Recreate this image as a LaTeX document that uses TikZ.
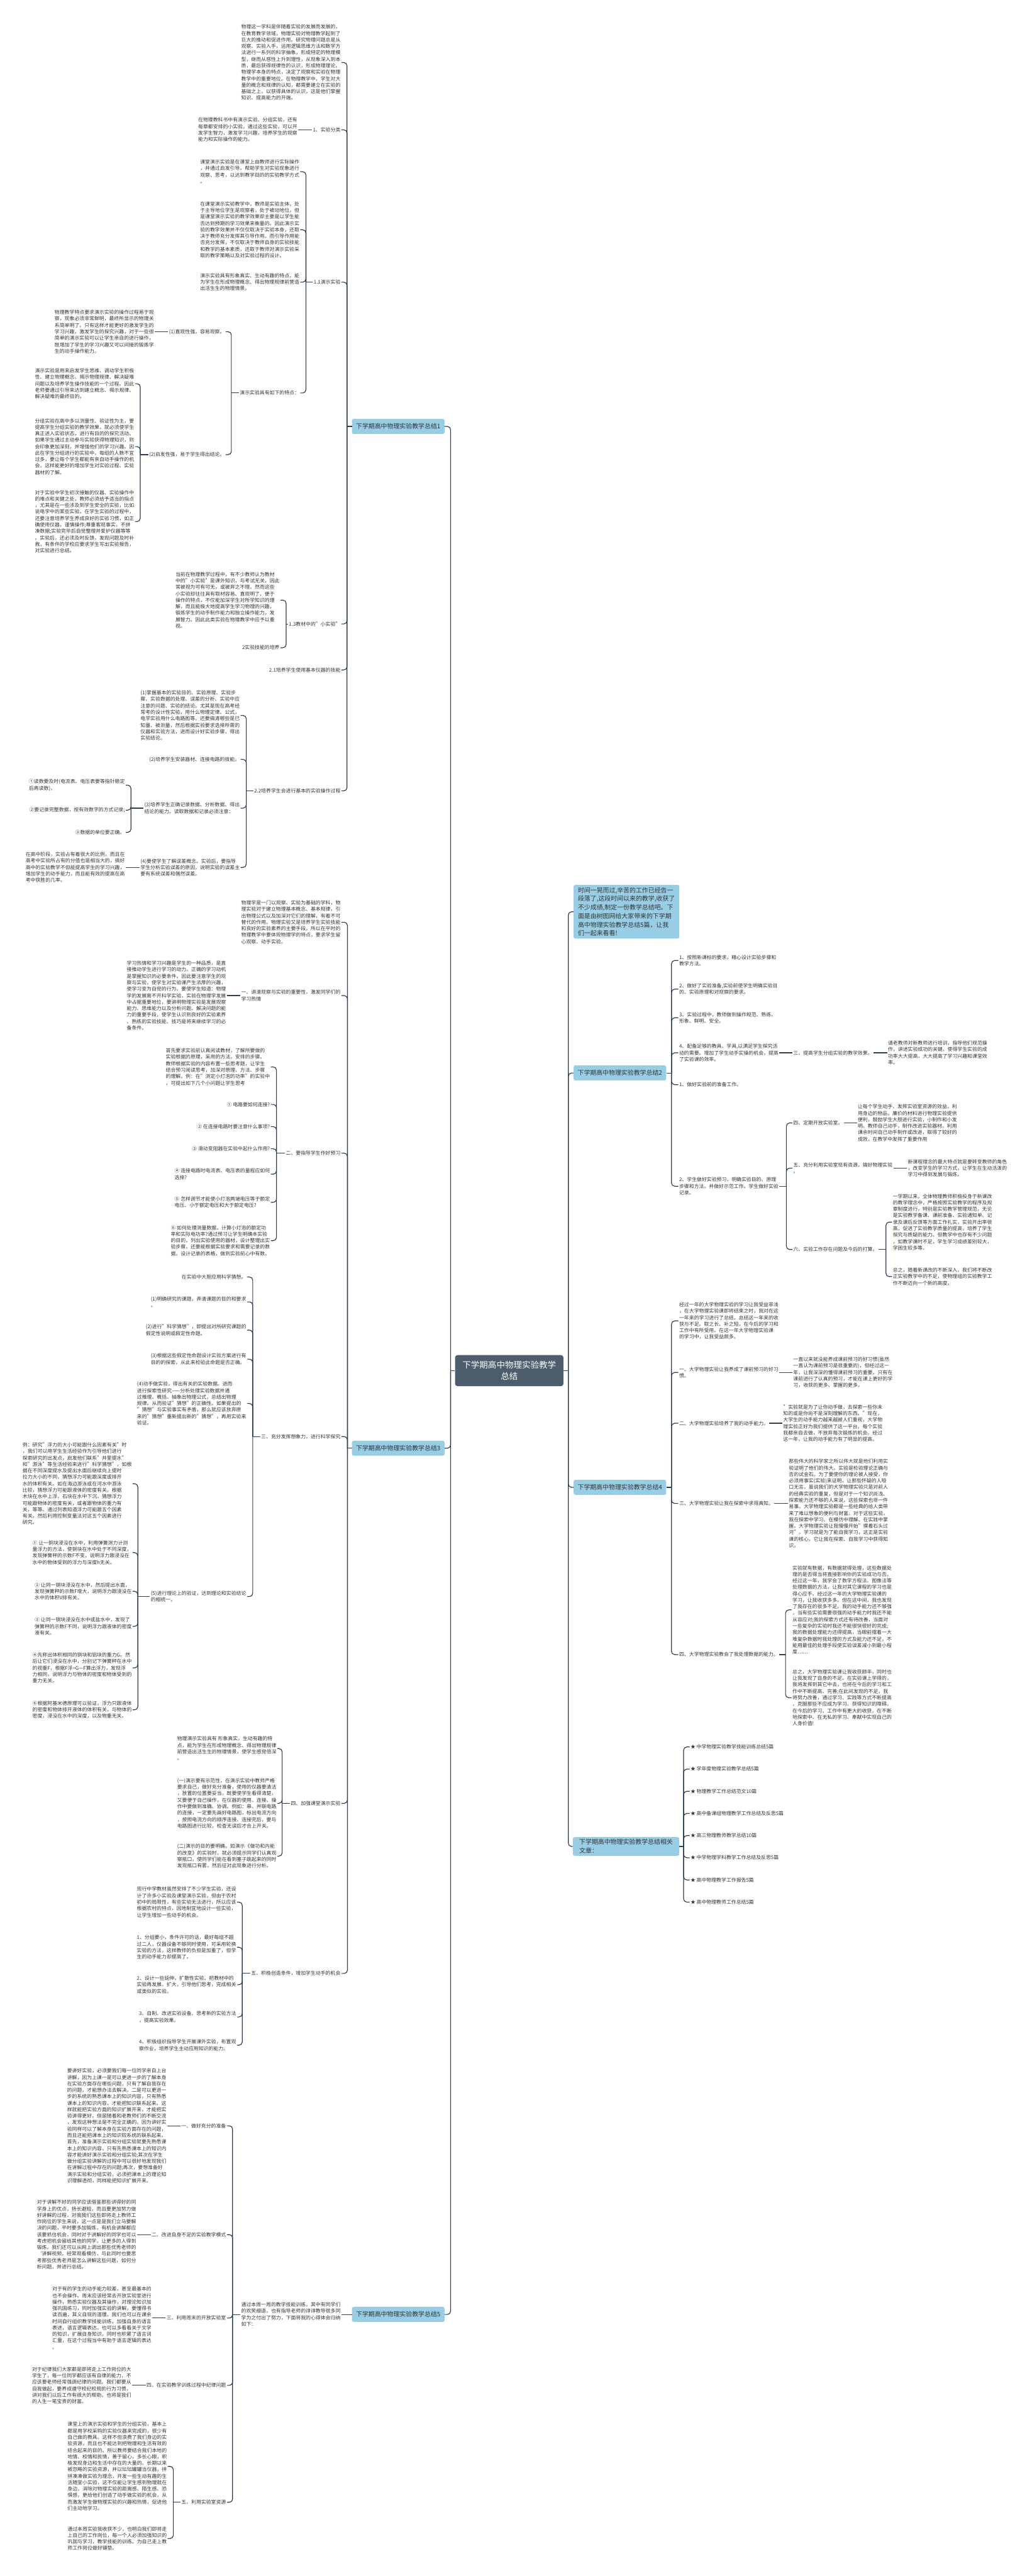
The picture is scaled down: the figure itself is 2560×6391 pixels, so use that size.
\documentclass[tikz,border=0pt]{standalone}
\usepackage{fontspec}
\setmainfont{Noto Sans CJK SC}
\usepackage{xcolor}
\definecolor{linec}{RGB}{44, 62, 80}
\definecolor{textc}{RGB}{51, 51, 51}
\definecolor{branchc}{RGB}{152, 206, 229}
\definecolor{rootc}{RGB}{77, 93, 109}
\usepackage{tikz}
\newcommand\mmbody{\fontsize{8.75pt}{11.4pt}\selectfont}
\newcommand\mmbranch{\fontsize{11pt}{15.2pt}\selectfont}
\newcommand\mmroot{\fontsize{15pt}{20pt}\selectfont}
\tikzset{
  conn/.style={draw=linec, line width=1.3pt, rounded corners=2mm},
  txt/.style={font=\mmbody, text=textc, align=left, inner sep=0.5mm},
  branch/.style={fill=branchc, rounded corners=1mm, font=\mmbranch, text=textc, align=left,
    inner xsep=2.5mm, inner ysep=1mm, minimum height=9.25mm},
  root/.style={fill=rootc, rounded corners=1.5mm, font=\mmroot, text=white, align=center,
    minimum width=67.25mm, minimum height=19.25mm}
}
\begin{document}
\begin{tikzpicture}[x=0.25mm, y=-0.25mm]
\useasboundingbox[fill=white] (0,0) rectangle (2560,6391);

% centre and main spines
\node[root] (root) at (1263.5,3400.5) {下学期高中物理实验教学\\总结};
\coordinate (Ls) at (1118,3400.5);
\coordinate (Rs) at (1410,3400.5);

\node[branch, anchor=west] (s1) at (873,1058) {下学期高中物理实验教学总结1};
\node[branch, anchor=west] (s3) at (873,3593) {下学期高中物理实验教学总结3};
\node[branch, anchor=west] (s5) at (873,5742) {下学期高中物理实验教学总结5};
\node[branch, anchor=west, minimum width=65.5mm, inner ysep=1.5mm] (t0) at (1423,2262) {时间一晃而过,辛苦的工作已经告一\\段落了,这段时间以来的教学,收获了\\不少成绩,制定一份教学总结吧。下\\面是由树图网给大家带来的下学期\\高中物理实验教学总结5篇，让我\\们一起来看看!};
\node[branch, anchor=west] (s2) at (1423,2662) {下学期高中物理实验教学总结2};
\node[branch, anchor=west] (s4) at (1423,3690) {下学期高中物理实验教学总结4};
\node[branch, anchor=west, minimum width=66mm, inner ysep=1.3mm] (s6) at (1421,4581) {下学期高中物理实验教学总结相关\\文章：};

\draw[conn] (root.west) -- (Ls);
\foreach \b in {s1,s3,s5} \draw[conn] (Ls) |- (\b.east);
\draw[conn] (root.east) -- (Rs);
\foreach \b in {t0,s2,s4,s6} \draw[conn] (Rs) |- (\b.west);

% ---------- 总结1 ----------
\node[txt, anchor=east] (a1) at (847,155) {物理这一学科是伴随着实验的发展而发展的，\\在教育教学领域，物理实验对物理教学起到了\\巨大的推动和促进作用。研究物理问题总是从\\观察、实验入手，运用逻辑思维方法和数学方\\法进行一系列的科学抽象，形成特定的物理模\\型，继而从感性上升到理性，从现象深入到本\\质，最后获得规律性的认识，形成物理理论。\\物理学本身的特点，决定了观察和实验在物理\\教学中的重要地位。在物理教学中，学生对大\\量的概念和规律的认知，都需要建立在实验的\\基础之上，以获得具体的认识，这是他们掌握\\知识、提高能力的开端。};
\node[txt, anchor=east] (a2) at (847,322) {1、实验分类};
\node[txt, anchor=east] (a3) at (847,700) {1.1演示实验};
\node[txt, anchor=east] (a4) at (847,1548) {1.3教材中的"小实验"};
\node[txt, anchor=east] (a5) at (847,1662) {2.1培养学生使用基本仪器的技能};
\node[txt, anchor=east] (a6) at (847,1962) {2.2培养学生会进行基本的实验操作过程};
\coordinate (s1s) at (861,1058);
\draw[conn] (s1.west) -- (s1s);
\foreach \c in {a1,a2,a3,a4,a5,a6} \draw[conn] (s1s) |- (\c.east);

\node[txt, anchor=east] (b1) at (740,322) {在物理教科书中有演示实验、分组实验，还有\\每章都安排的小实验。通过这些实验，可以开\\发学生智力，激发学习兴趣，培养学生的观察\\能力和实际操作的能力。};
\draw[conn] (a2.west) -- (b1.east);

\node[txt, anchor=east] (c1) at (745,426) {课堂演示实验是在课堂上由教师进行实际操作\\，并通过启发引导，帮助学生对实验现象进行\\观察、思考，以达到教学目的的实验教学方式\\。};
\node[txt, anchor=east] (c2) at (745,570) {在课堂演示实验教学中，教师是实验主体，处\\于主导地位学生是观察者，处于被动地位，但\\是课堂演示实验的教学效果却主要是以学生能\\否达到预期的学习效果来衡量的。因此演示实\\验的教学效果并不仅仅取决于实验本身，还取\\决于教师充分发挥其引导作用。而引导作用能\\否充分发挥，不仅取决于教师自身的实验技能\\和教学的基本素质，还取于教师对演示实验采\\取的教学策略以及对实验过程的设计。};
\node[txt, anchor=east] (c3) at (745,700) {演示实验具有形象真实、生动有趣的特点，能\\为学生在形成物理概念、得出物理规律前营造\\出活生生的物理情景。};
\node[txt, anchor=east] (c4) at (745,975) {演示实验具有如下的特点：};
\coordinate (a3s) at (759,700);
\draw[conn] (a3.west) -- (a3s);
\foreach \c in {c1,c2,c3,c4} \draw[conn] (a3s) |- (\c.east);

\node[txt, anchor=east] (d1) at (560,823) {(1)直观性强，容易观察。};
\node[txt, anchor=east] (d2) at (560,1128) {(2)启发性强，易于学生得出结论。};
\coordinate (c4s) at (574,975);
\draw[conn] (c4.west) -- (c4s);
\foreach \c in {d1,d2} \draw[conn] (c4s) |- (\c.east);

\node[txt, anchor=east] (e1) at (384,823) {物理教学特点要求演示实验的操作过程易于观\\察，现象必须非常鲜明，最终所显示的物理关\\系简单明了。只有这样才能更好的激发学生的\\学习兴趣，激发学生的探究兴趣，对于一些很\\简单的演示实验可以让学生亲自的进行操作，\\既增加了学生的学习兴趣又可以间接的锻炼学\\生的动手操作能力。};
\draw[conn] (d1.west) -- (e1.east);

\node[txt, anchor=east] (e2) at (335,952) {演示实验是用来启发学生思维、调动学生积极\\性、建立物理概念、揭示物理规律、解决疑难\\问题以及培养学生操作技能的一个过程。因此\\老师要通过引导来达到建立概念、揭示规律、\\解决疑难的最终目的。};
\node[txt, anchor=east] (e3) at (335,1108) {分组实验在高中多以测量性、验证性为主，要\\提高学生分组实验的教学效果，就必须使学生\\真正进入实验状态，进行有目的的探究活动。\\如果学生通过主动参与实验获得物理知识，则\\会印象更加深刻，并增强他们的学习兴趣。因\\此在学生分组进行的实验中，每组的人数不宜\\过多，要让每个学生都能有亲自动手操作的机\\会，这样能更好的增加学生对实验过程、实验\\器材的了解。};
\node[txt, anchor=east] (e4) at (335,1294) {对于实验中学生初次接触的仪器、实验操作中\\的难点和关键之处，教师必须给予适当的指点\\，尤其是在一些涉及到学生安全的实验，比如\\说电学中的某些实验。在学生实验的过程中，\\还要注意培养学生养成良好的实验习惯，如正\\确使用仪器，谨慎操作;尊重客观事实，不拼\\凑数据;实验完毕后自觉整理并爱护仪器等等\\。实验后，还必须及时反馈，发现问题及时补\\救，有条件的学校应要求学生写出实验报告，\\对实验进行总结。};
\coordinate (d2s) at (348,1128);
\draw[conn] (d2.west) -- (d2s);
\foreach \c in {e2,e3,e4} \draw[conn] (d2s) |- (\c.east);

\node[txt, anchor=east] (f1) at (696,1489) {当前在物理教学过程中，有不少教师认为教材\\中的"小实验"是课外知识，与考试无关，因此\\常被视为可有可无，或被弃之不理。然而这些\\小实验却往往具有取材容易、直观明了、便于\\操作的特点，不仅能加深学生对所学知识的理\\解，而且能极大地提高学生学习物理的兴趣，\\锻炼学生的动手制作能力和独立操作能力，发\\展智力。因此此类实验在物理教学中应予以重\\视。};
\node[txt, anchor=east] (f2) at (696,1607) {2实验技能的培养};
\coordinate (a4s) at (710,1548);
\draw[conn] (a4.west) -- (a4s);
\foreach \c in {f1,f2} \draw[conn] (a4s) |- (\c.east);

\node[txt, anchor=east] (g1) at (597,1775) {(1)掌握基本的实验目的、实验原理、实验步\\骤、实验数据的处理、误差的分析、实验中应\\注意的问题、实验的结论。尤其是现在高考经\\常考的设计性实验，用什么物理定律、公式，\\电学实验用什么电路图等。还要搞清哪些是已\\知量、被测量，然后根据实验要求选择所需的\\仪器和实验方法，进而设计好实验步骤，得出\\实验结论。};
\node[txt, anchor=east] (g2) at (597,1884) {(2)培养学生安装器材、连接电路的技能。};
\node[txt, anchor=east] (g3) at (597,2005) {(3)培养学生正确记录数据、分析数据、得出\\结论的能力。读取数据和记录必须注意：};
\node[txt, anchor=east] (g4) at (597,2152) {(4)要使学生了解误差概念。实验后，要指导\\学生分析实验误差的原因，说明实验的误差主\\要有系统误差和偶然误差。};
\coordinate (a6s) at (611,1962);
\draw[conn] (a6.west) -- (a6s);
\foreach \c in {g1,g2,g3,g4} \draw[conn] (a6s) |- (\c.east);

\node[txt, anchor=east] (h1) at (312,1948) {①读数要及时(电流表、电压表要等指针稳定\\后再读数)，};
\node[txt, anchor=east] (h2) at (312,2010) {②要记录完整数据，按有效数字的方式记录;};
\node[txt, anchor=east] (h3) at (312,2065) {③数据的单位要正确。};
\coordinate (g3s) at (325,2005);
\draw[conn] (g3.west) -- (g3s);
\foreach \c in {h1,h2,h3} \draw[conn] (g3s) |- (\c.east);
\node[txt, anchor=east] (h4) at (312,2152) {在高中阶段，实验占有着很大的比例，而且在\\高考中实验所占有的分值也是相当大的，搞好\\高中的实验教学不但能提高学生的学习兴趣，\\增加学生的动手能力，而且能有效的提高在高\\考中获胜的几率。};
\draw[conn] (g4.west) -- (h4.east);

% ---------- 总结3 ----------
\node[txt, anchor=east] (i1) at (847,2288) {物理学是一门以观察、实验为基础的学科，物\\理实验对于建立物理基本概念、基本规律，引\\出物理公式以及加深对它们的理解，有着不可\\替代的作用。物理实验又是培养学生实验技能\\和良好的实验素养的主要手段，所以在平时的\\物理教学中要体现物理学的特点，要求学生留\\心观察、动手实验。};
\node[txt, anchor=east] (i2) at (847,2470) {一、讲清观察与实验的重要性，激发同学们的\\学习热情};
\node[txt, anchor=east] (i3) at (847,2861) {二、要指导学生作好预习};
\node[txt, anchor=east] (i4) at (847,3564) {三、充分发挥想象力，进行科学探究};
\node[txt, anchor=east] (i5) at (847,4474) {四、加强课堂演示实验};
\node[txt, anchor=east] (i6) at (847,4896) {五、积极创造条件，增加学生动手的机会};
\coordinate (s3s) at (862,3593);
\draw[conn] (s3.west) -- (s3s);
\foreach \c in {i1,i2,i3,i4,i5,i6} \draw[conn] (s3s) |- (\c.east);

\node[txt, anchor=east] (j1) at (563,2470) {学习热情和学习兴趣是学生的一种品质，是直\\接推动学生进行学习的动力。正确的学习动机\\是掌握知识的必要条件。因此要注意学生的观\\察与实验，使学生对实验课产生浓厚的兴趣，\\使学习变为自觉的行为。要使学生知道：物理\\学的发展离不开科学实验，实验在物理学发展\\中占据重要地位，要讲明物理实验是发展观察\\能力、思维能力以及分析问题、解决问题的能\\力的重要手段，使学生认识到良好的实验素养\\、熟练的实验技能、技巧是将来继续学习的必\\备条件。};
\draw[conn] (i2.west) -- (j1.east);

\node[txt, anchor=east] (k1) at (672,2647) {首先要求实验前认真阅读教材，了解所要做的\\实验根据的原理，采用的方法，安排的步骤。\\教师根据实验的内容布置一些思考题，让学生\\结合预习阅读思考，加深对原理、方法、步骤\\的理解。例：在"测定小灯泡的功率"的实验中\\，可提出如下几个小问题让学生思考};
\node[txt, anchor=east] (k2) at (672,2740) {① 电路要如何连接?};
\node[txt, anchor=east] (k3) at (672,2795) {② 在连接电路时要注意什么事项?};
\node[txt, anchor=east] (k4) at (672,2850) {③ 滑动变阻器在实验中起什么作用?};
\node[txt, anchor=east] (k5) at (672,2913) {④ 连接电路时电流表、电压表的量程应如何\\选择?};
\node[txt, anchor=east] (k6) at (672,2983) {⑤ 怎样调节才能使小灯泡两端电压等于额定\\电压、小于额定电压和大于额定电压?};
\node[txt, anchor=east] (k7) at (672,3078) {⑥ 如何处理测量数据，计算小灯泡的额定功\\率和实际电功率?通过预习让学生明确本实验\\的目的，列出实验使用的器材，设计整理出实\\验步骤，还要能根据实验要求和需要记录的数\\据，设计记录的表格，做到实验前心中有数。};
\coordinate (i3s) at (686,2861);
\draw[conn] (i3.west) -- (i3s);
\foreach \c in {k1,k2,k3,k4,k5,k6,k7} \draw[conn] (i3s) |- (\c.east);

\node[txt, anchor=east] (l1) at (613,3168) {在实验中大胆应用科学猜想。};
\node[txt, anchor=east] (l2) at (613,3230) {(1)明确研究的课题，弄清课题的目的和要求\\。};
\node[txt, anchor=east] (l3) at (613,3300) {(2)进行"科学猜想"，即提出对所研究课题的\\假定性说明或假定性命题。};
\node[txt, anchor=east] (l4) at (613,3372) {(3)根据这些假定性命题设计实验方案进行有\\目的的探索，从此来检验此命题是否正确。};
\node[txt, anchor=east] (l5) at (613,3482) {(4)动手做实验，得出有关的实验数据。进而\\进行探索性研究——分析处理实验数据并通\\过推理、概括、抽象出物理公式，总结出物理\\规律。从而验证"猜想"的正确性。如果提出的\\"猜想"与实验事实有矛盾，那么就应该放弃原\\来的"猜想"重新提出新的"猜想"，再用实验来\\验证。};
\node[txt, anchor=east] (l6) at (613,3961) {(5)进行理论上的验证，达到理论和实验结论\\的相统一。};
\coordinate (i4s) at (627,3564);
\draw[conn] (i4.west) -- (i4s);
\foreach \c in {l1,l2,l3,l4,l5,l6} \draw[conn] (i4s) |- (\c.east);

\node[txt, anchor=east] (m1) at (329,3681) {例：研究"浮力的大小可能跟什么因素有关"时\\，我们可以用学生生活经验作为引导他们进行\\探索研究的出发点，启发他们联系"井里提水"\\和"游泳"等生活经验来进行"科学猜想"，如根\\据在不同深度提水及提出水面后继续向上提时\\拉力大小的不同，猜想浮力可能跟深度或排开\\水的体积有关。如在海边游泳或在河水中游泳\\比较，猜想浮力可能跟液体的密度有关。根据\\木块在水中上浮，石块在水中下沉，猜想浮力\\可能跟物体的密度有关，或者跟物体的重力有\\关，等等。通过列表知道浮力可能跟五个因素\\有关，然后利用控制变量法对这五个因素进行\\研究。};
\node[txt, anchor=east] (m2) at (329,3852) {① 让一铜块浸没在水中，利用弹簧测力计测\\量浮力的方法，使铜块在水中处于不同深度，\\发现弹簧秤的示数F不变，说明浮力跟浸没在\\水中的物体受到的浮力与深度h无关。};
\node[txt, anchor=east] (m3) at (329,3948) {② 让同一铜块浸没在水中，然后提出水面，\\发现弹簧秤的示数F增大，说明浮力跟浸没在\\水中的体积V排有关。};
\node[txt, anchor=east] (m4) at (329,4035) {③ 让同一铜块浸没在水中或盐水中，发现了\\弹簧秤的示数F不同，说明浮力跟液体的密度\\液有关。};
\node[txt, anchor=east] (m5) at (329,4138) {④先称出体积相同的铜块和铝块的重力G。然\\后让它们浸没在水中，分别记下弹簧秤在水中\\的视重F，根据F浮=G—F算出浮力，发现浮\\力相同，说明浮力与物体的密度和物体受到的\\重力无关。};
\node[txt, anchor=east] (m6) at (329,4242) {⑥根据阿基米德原理可以验证，浮力只跟液体\\的密度和物体排开液体的体积有关，与物体的\\密度，浸没在水中的深度，以及物重无关。};
\coordinate (l6s) at (342,3961);
\draw[conn] (l6.west) -- (l6s);
\foreach \c in {m1,m2,m3,m4,m5,m6} \draw[conn] (l6s) |- (\c.east);

\node[txt, anchor=east] (n1) at (688,4338) {物理演示实验具有 形象真实，生动有趣的特\\点，能为学生在形成物理概念、得出物理规律\\前营造出活生生的物理情景，使学生感觉倍深\\。};
\node[txt, anchor=east] (n2) at (688,4474) {(一)演示要有示范性，在演示实验中教师严格\\要求自己，做好充分准备，使用的仪器要清洁\\，放置的位置要妥当，既要使学生看得清楚，\\又要便于自己操作，在仪器的使用、连接、操\\作中要做到准确、协调。例如：串、并联电路\\的连接，一定要先画好电路图，标出电流方向\\，按照电流方向的顺序连接、连接完后，要与\\电路图进行比较，检查无误后才合上开关。};
\node[txt, anchor=east] (n3) at (688,4605) {(二)演示的目的要明确。如演示《做功和内能\\的改变》的实验时，就必须提示同学们认真观\\察瓶口，使同学们能在看到塞子跳起来的同时\\发现瓶口有雾，然后征对此现象进行分析。};
\coordinate (i5s) at (700,4474);
\draw[conn] (i5.west) -- (i5s);
\foreach \c in {n1,n2,n3} \draw[conn] (i5s) |- (\c.east);

\node[txt, anchor=east] (o1) at (588,4719) {现行中学教材虽然安排了不少学生实验，还设\\计了许多小实验及课堂演示实验，但由于农村\\初中的局限性，有些实验无法进行，所以应该\\根据农村的特点，因地制宜地设计一些实验，\\让学生增加一些动手的机会。};
\node[txt, anchor=east] (o2) at (588,4831) {1、分组要小，条件许可的话，最好每组不超\\过二人，仪器设备不够同时使用，可采用轮换\\实验的方法，这样教师的负担是加重了，但学\\生的动手能力却提高了。};
\node[txt, anchor=east] (o3) at (588,4924) {2、设计一些延伸，扩散性实验。把教材中的\\实验再发展、扩大，引导他们思考，完成相关\\或类似的实验。};
\node[txt, anchor=east] (o4) at (588,5004) {3、自制、改进实验设备、思考新的实验方法\\，提高实验效果。};
\node[txt, anchor=east] (o5) at (588,5074) {4、积极组织指导学生开展课外实验，布置观\\察作业，培养学生主动应用知识的能力。};
\coordinate (i6s) at (601,4896);
\draw[conn] (i6.west) -- (i6s);
\foreach \c in {o1,o2,o3,o4,o5} \draw[conn] (i6s) |- (\c.east);

% ---------- 总结5 ----------
\node[txt, anchor=east] (p0) at (847,5742) {通过本周一周的教学技能训练，其中有同学们\\的欢笑细语，也有指导老师的谆谆教导很多同\\学为之付出了努力，下面将我的心得体会归纳\\如下：};
\draw[conn] (s5.west) -- (p0.east);
\node[txt, anchor=east] (q1) at (563,5274) {一、做好充分的准备};
\node[txt, anchor=east] (q2) at (563,5544) {二、改进自身不足的实验教学模式};
\node[txt, anchor=east] (q3) at (563,5751) {三、利用周末的开放实验室};
\node[txt, anchor=east] (q4) at (563,5918) {四、在实验教学训练过程中纪律问题};
\node[txt, anchor=east] (q5) at (563,6208) {五、利用实验室资源};
\coordinate (p0s) at (577,5742);
\draw[conn] (p0.west) -- (p0s);
\foreach \c in {q1,q2,q3,q4,q5} \draw[conn] (p0s) |- (\c.east);

\node[txt, anchor=east] (r1) at (415,5274) {要讲好实验，必须要我们每一位同学亲自上台\\讲解，因为上课一是可以更进一步的了解本身\\在实验方面存在哪些问题，只有了解自我存在\\的问题，才能想办法去解决。二是可以更进一\\步的系统的熟悉课本上的知识内容，只有熟悉\\课本上的知识内容，才能把知识联系起来。这\\样就能把实验方面的知识扩展开来，才能把实\\验讲得更好。但是随着和老教师们的不断交流\\，发现这种想法是不完全正确的。因为讲好实\\验同样可以了解本身在实验方面存在的问题，\\而且还能把课本上的知识较系统的联系起来。\\首先，准备演示实验和分组实验就要先熟悉课\\本上的知识内容，只有先熟悉课本上的知识内\\容才能讲好演示实验和分组实验;其次在学生\\做分组实验讲解的过程中可以很好地发现我们\\在讲解过程中存在的问题;再次，要想准备好\\演示实验和分组实验，必须把课本上的理论知\\识理解透彻，同样能把知识扩展开来。};
\draw[conn] (q1.west) -- (r1.east);
\node[txt, anchor=east] (r2) at (340,5544) {对于讲解不好的同学应该借鉴那些讲得好的同\\学身上的优点，扬长避短，而且要更加努力做\\好讲解的过程，对我我们这些即将走上教师工\\作岗位的学生来说，这一点是是我们立马要解\\决的问题，平时要多加锻炼，有机会讲解都应\\该要抓住机会，同时对于讲解好的同学也可以\\考虑把机会留给其他的同学，让更多的人得到\\锻炼。我们还可以从网上调出那些优秀老师的\\`讲解视频，经常观看模仿，与此同时也要思\\考那些优秀老师是怎么讲解这些问题，如何分\\析问题，并进行总结。};
\draw[conn] (q2.west) -- (r2.east);
\node[txt, anchor=east] (r3) at (378,5751) {对于有的学生的动手能力较差，甚至最基本的\\也不会操作。周末应该经常去开放实验室进行\\操作，熟悉实验仪器及其操作，对理论知识加\\强巩固练习，同时加强实验的讲解，要懂得书\\读百遍，其义自现的道理。我们也可以在课余\\时间自行组织教学技能训练，加强自身的语言\\表述，语言逻辑表达。也可以多看看关于文学\\的知识，扩展自身知识，同时也积累了语言词\\汇量，在这个过程当中有助于语言逻辑的表达\\。};
\draw[conn] (q3.west) -- (r3.east);
\node[txt, anchor=east] (r4) at (328,5918) {对于纪律我们大家都是即将走上工作岗位的大\\学生了，每一位同学都应该有自律的能力，不\\应该要老师经常强调纪律的问题。我们都要从\\自我做起，要养成遵守校纪校规的行为习惯，\\讲对我们以后工作有很大的帮助，也将是我们\\的人生一笔宝贵的财富。};
\draw[conn] (q4.west) -- (r4.east);
\node[txt, anchor=east] (r5) at (416,6119) {课堂上的演示实验和学生的分组实验，基本上\\都是用学校采购的实验仪器来完成的，很少有\\自己做的教具。这样不但浪费了我们身边的实\\验资源，而且也不能达到把物理和生活有效的\\结合起来的目的。所以教师要结合我们本地的\\地情、校情和民情，善于留心，多长心眼，积\\极发现身边和生活中存在的大量的、长期以来\\被忽略的实验资源，并以坛坛罐罐当仪器，拼\\拼凑凑做实验为理念，开发一些生动有趣的生\\活随堂小实验，这不仅能让学生感到物理就在\\身边，消除对物理实验的距离感、陌生感、恐\\惧感，更给他们创造了动手做实验的机会，从\\而激发学生做物理实验的兴趣和热情，促进他\\们主动地学习。};
\node[txt, anchor=east] (r6) at (416,6298) {通过本周实验我收获不少，也明白我们即将走\\上自己的工作岗位，每一个人必须加强知识的\\巩固与学习，教学技能的训练。为自己走上教\\师工作岗位做好铺垫。};
\coordinate (q5s) at (430,6208);
\draw[conn] (q5.west) -- (q5s);
\foreach \c in {r5,r6} \draw[conn] (q5s) |- (\c.east);

% ---------- 总结2 ----------
\node[txt, anchor=west] (u1) at (1683,2383) {1、按照新课标的要求，精心设计实验步骤和\\教学方法。};
\node[txt, anchor=west] (u2) at (1683,2454) {2、做好了实验准备,实验前使学生明确实验目\\的、实验原理和对观察的要求。};
\node[txt, anchor=west] (u3) at (1683,2525) {3、实验过程中，教师做到操作规范、熟练、\\形象、鲜明、安全。};
\node[txt, anchor=west] (u4) at (1683,2612) {4、配备足够的教具、学具,以满足学生探究活\\动的需要。增加了学生动手实操的机会，提高\\了实验课的效率。};
\node[txt, anchor=west] (u5) at (1683,2691) {1、做好实验前的准备工作。};
\node[txt, anchor=west] (u6) at (1683,2943) {2、学生做好实验预习，明确实验目的、原理\\步骤和方法。并做好示范工作。学生做好实验\\记录。};
\coordinate (s2s) at (1666,2662);
\draw[conn] (s2.east) -- (s2s);
\foreach \c in {u1,u2,u3,u4,u5,u6} \draw[conn] (s2s) |- (\c.west);

\node[txt, anchor=west] (v1) at (1966,2612) {三、提高学生分组实验的教学效果。};
\node[txt, anchor=west] (v2) at (2201,2612) {请老教师对新教师进行培训，指导他们规范操\\作，讲述实验成功的关键。使得学生实验的成\\功率大大提高，大大提高了学习兴趣和课堂效\\率。};
\draw[conn] (u4.east) -- (v1.west);
\draw[conn] (v1.east) -- (v2.west);

\node[txt, anchor=west] (w1) at (1966,2786) {四、定期开放实验室。};
\node[txt, anchor=west] (w2) at (1966,2898) {五、充分利用实验室现有资源，搞好物理实验\\。};
\node[txt, anchor=west] (w3) at (1966,3100) {六、实验工作存在问题及今后的打算。};
\coordinate (u6s) at (1951,2943);
\draw[conn] (u6.east) -- (u6s);
\foreach \c in {w1,w2,w3} \draw[conn] (u6s) |- (\c.west);
\node[txt, anchor=west] (w1b) at (2126,2786) {让每个学生动手，发挥实验室资源的效益，利\\用身边的物品，廉价的材料进行物理实验提供\\便利，鼓励学生大胆进行实验，小制作和小发\\明。教师自己动手，制作改进实验器材。利用\\课余时间自己动手制作或改进，取得了较好的\\成效，在教学中发挥了重要作用};
\draw[conn] (w1.east) -- (w1b.west);
\node[txt, anchor=west] (w2b) at (2250,2898) {新课程理念的最大特点就是要转变教师的角色\\，改变学生的学习方式，让学生在生动活泼的\\学习中得到发展与锻炼。};
\draw[conn] (w2.east) -- (w2b.west);
\node[txt, anchor=west] (x1) at (2213,3032) {一学期以来，全体物理教师积极投身于新课改\\的教学理念中，严格按照实验教学的程序及规\\章制度进行，特别是实验教学管理规范，无论\\是实验教学备课、课前准备、实验通知单、记\\录及课后反馈等方面工作扎实，实验开出率很\\高，促进了实验教学质量的提高，培养了学生\\探究与质疑的能力。但教学中也存有不少问题\\，如教学课时不足，学生学习成绩差别较大，\\学困生较多等。};
\node[txt, anchor=west] (x2) at (2213,3167) {总之，随着新课改的不断深入，我们将不断改\\正实验教学中的不足，使物理组的实验教学工\\作不断迈向一个新的高度。};
\coordinate (w3s) at (2198,3100);
\draw[conn] (w3.east) -- (w3s);
\foreach \c in {x1,x2} \draw[conn] (w3s) |- (\c.west);

% ---------- 总结4 ----------
\node[txt, anchor=west] (y1) at (1683,3277) {经过一年的大学物理实验的学习让我受益菲浅\\，在大学物理实验课即将结束之时，我对在这\\一年来的学习进行了总结，总结这一年来的收\\获与不足。取之长、补之短，在今后的学习和\\工作中有所受用。在这一年大学物理实验课\\的学习中，让我受益颇多。};
\node[txt, anchor=west] (y2) at (1683,3405) {一、大学物理实验让我养成了课前预习的好习\\惯。};
\node[txt, anchor=west] (y3) at (1683,3531) {二、大学物理实验培养了我的动手能力。};
\node[txt, anchor=west] (y4) at (1683,3730) {三、大学物理实验让我在探索中求得真知。};
\node[txt, anchor=west] (y5) at (1683,4105) {四、大学物理实验教会了我处理数据的能力。};
\coordinate (s4s) at (1666,3690);
\draw[conn] (s4.east) -- (s4s);
\foreach \c in {y1,y2,y3,y4,y5} \draw[conn] (s4s) |- (\c.west);

\node[txt, anchor=west] (y2b) at (1966,3405) {一直以来就没能养成课前预习的好习惯(虽然\\一直认为课前预习是很重要的)，但经过这一\\年，让我深深的懂得课前预习的重要。只有在\\课前进行了认真的预习，才能在课上更好的学\\习，收获的更多、掌握的更多。};
\draw[conn] (y2.east) -- (y2b.west);
\node[txt, anchor=west] (y3b) at (1941,3531) {"实验就是为了让你动手做，去探索一些你未\\知的或是你尚不是深刻理解的东西。"现在，\\大学生的动手能力越来越被人们重视，大学物\\理实验正好为我们提供了这一平台。每个实验\\我都亲自去做，不放弃每次锻炼的机会。经过\\这一年，让我的动手能力有了明显的提高。};
\draw[conn] (y3.east) -- (y3b.west);
\node[txt, anchor=west] (y4b) at (1955,3730) {那些伟大的科学家之所以伟大就是他们利用实\\验证明了他们的伟大。实验是检验理论正确与\\否的试金石。为了要使你的理论被人接受，你\\必须用事实(实验)来证明，让那些怀疑的人哑\\口无言。虽说我们的大学物理实验只是对前人\\的经典实验的重复，但是对于一个知识尚浅、\\探索能力还不够的人来说，这些探索也非一件\\易事。大学物理实验都是一些经典的给人类带\\来了难以想象的便利与财富。对于这些实验，\\我在探索中学习、在模仿中理解、在实践中掌\\握。大学物理实验让我慢慢开始"摸着石头过\\河"。学习就是为了能自我学习，这正是实验\\课的核心，它让我在探索、自我学习中获得知\\识。};
\draw[conn] (y4.east) -- (y4b.west);

\node[txt, anchor=west] (z1) at (1964,3994) {实验就有数据，有数据就得处理，这些数据处\\理的是否得当将直接影响你的实验成功与否。\\经过这一年，我学会了数学方程法、图像法等\\处理数据的方法，让我对其它课程的学习也是\\得心应手。经过这一年的大学物理实验课的\\学习，让我收获多多。但在这中间，我也发现\\了我存在的很多不足。我的动手能力还不够强\\，当有些实验需要很强的动手能力时我还不能\\从容应对;我的探索方式还有待改善，当面对\\一些复杂的实验时我还不能很快很好的完成;\\我的数据处理能力还得提高，当眼前摆着一大\\堆复杂数据时我处理的方式及能力还不足，不\\能用最佳的处理手段使实验误差减小到最小程\\度……};
\node[txt, anchor=west] (z2) at (1964,4212) {总之，大学物理实验课让我收获颇丰，同时也\\让我发现了自身的不足。在实验课上学得的，\\我将发挥到其它中去，也将在今后的学习和工\\作中不断提高、完善;在此间发现的不足，我\\将努力改善，通过学习、实践等方式不断提高\\，克服那些不应成为学习、获得知识的障碍。\\在今后的学习、工作中有更大的收获，在不断\\地探索中、在无私的学习、奉献中实现自己的\\人身价值!};
\coordinate (y5s) at (1949,4105);
\draw[conn] (y5.east) -- (y5s);
\foreach \c in {z1,z2} \draw[conn] (y5s) |- (\c.west);

% ---------- 相关文章 ----------
\foreach \t [count=\i] in {中学物理实验教学技能训练总结5篇, 学年度物理实验教学总结5篇,
    物理教学工作总结范文10篇, 高中备课组物理教学工作总结及反思5篇, 高三物理教师教学总结10篇,
    中学物理学科教学工作总结及反思5篇, 高中物理教学工作报告5篇, 高中物理教师工作总结5篇}
  \node[txt, anchor=west] (rel\i) at (1711,4279+55*\i) {★ \t};
\coordinate (s6s) at (1696,4581);
\draw[conn] (s6.east) -- (s6s);
\foreach \i in {1,...,8} \draw[conn] (s6s) |- (rel\i.west);
\end{tikzpicture}
\end{document}
